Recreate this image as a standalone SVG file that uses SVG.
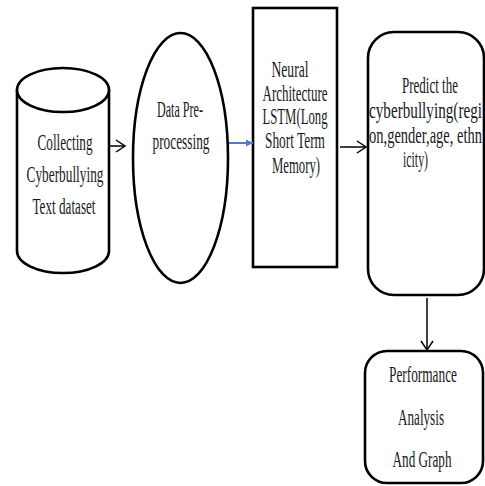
<svg xmlns="http://www.w3.org/2000/svg" width="485" height="486" viewBox="0 0 485 486">
<defs>
<style>
.shape{fill:#fff;stroke:#000;stroke-width:2.6}
.t{font-family:"Liberation Serif","Times New Roman",serif;font-size:23px;fill:#1a1a1a}
.c{text-anchor:middle}
.conn{stroke:#000;stroke-width:1.5;fill:none}
.blue{stroke:#4a7fc0;stroke-width:2;fill:none}
</style>
<marker id="open" markerWidth="12" markerHeight="14" refX="10" refY="7" orient="auto" markerUnits="userSpaceOnUse">
<path d="M1,1 L10,7 L1,13" fill="none" stroke="#000" stroke-width="1.5"/>
</marker>
<marker id="bluehead" markerWidth="8" markerHeight="8" refX="7" refY="4" orient="auto" markerUnits="userSpaceOnUse">
<path d="M0,0.5 L7,4 L0,7.5 Z" fill="#4a7fc0"/>
</marker>
</defs>
<rect width="485" height="486" fill="#fff"/>

<g id="collect">
<path class="shape" d="M17,90 L17,251 A46,22 0 0 0 109,251 L109,90"/>
<ellipse class="shape" cx="63" cy="90" rx="46" ry="22"/>
<text class="t c" x="65" y="150" textLength="55" lengthAdjust="spacingAndGlyphs">Collecting</text>
<text class="t c" x="65" y="182" textLength="77" lengthAdjust="spacingAndGlyphs">Cyberbullying</text>
<text class="t c" x="64" y="214" textLength="63" lengthAdjust="spacingAndGlyphs">Text dataset</text>
</g>

<g id="preprocess">
<ellipse class="shape" cx="180.5" cy="158" rx="47.5" ry="125"/>
<text class="t c" x="180" y="117" textLength="46" lengthAdjust="spacingAndGlyphs">Data Pre-</text>
<text class="t c" x="181" y="149" textLength="57" lengthAdjust="spacingAndGlyphs">processing</text>
</g>

<g id="lstm">
<rect class="shape" x="253" y="8" width="84" height="259"/>
<text class="t c" x="290" y="77" textLength="37" lengthAdjust="spacingAndGlyphs">Neural</text>
<text class="t c" x="295" y="101" textLength="65" lengthAdjust="spacingAndGlyphs">Architecture</text>
<text class="t c" x="295" y="124" textLength="65" lengthAdjust="spacingAndGlyphs">LSTM(Long</text>
<text class="t c" x="295" y="148" textLength="60" lengthAdjust="spacingAndGlyphs">Short Term</text>
<text class="t c" x="296" y="173" textLength="48" lengthAdjust="spacingAndGlyphs">Memory)</text>
</g>

<g id="predict">
<rect class="shape" x="368" y="32" width="116" height="263" rx="26" ry="26"/>
<text class="t c" x="430" y="93" textLength="56" lengthAdjust="spacingAndGlyphs">Predict the</text>
<text class="t" x="369" y="118" textLength="113" lengthAdjust="spacingAndGlyphs">cyberbullying(regi</text>
<text class="t" x="369" y="143" textLength="113" lengthAdjust="spacingAndGlyphs">on,gender,age, ethn</text>
<text class="t" x="403" y="167" textLength="25" lengthAdjust="spacingAndGlyphs">icity)</text>
</g>

<g id="performance">
<rect class="shape" x="365" y="351" width="118" height="132" rx="22" ry="22"/>
<text class="t c" x="423" y="382" textLength="68" lengthAdjust="spacingAndGlyphs">Performance</text>
<text class="t c" x="421" y="425" textLength="46" lengthAdjust="spacingAndGlyphs">Analysis</text>
<text class="t c" x="422" y="467" textLength="59" lengthAdjust="spacingAndGlyphs">And Graph</text>
</g>

<g id="connectors">
<line class="conn" x1="110" y1="146" x2="125" y2="146" marker-end="url(#open)"/>
<line class="blue" x1="229" y1="143" x2="253" y2="143" marker-end="url(#bluehead)"/>
<line class="conn" x1="340" y1="147" x2="366" y2="147" marker-end="url(#open)"/>
<line class="conn" x1="427" y1="298" x2="427" y2="350" marker-end="url(#open)"/>
</g>
</svg>
